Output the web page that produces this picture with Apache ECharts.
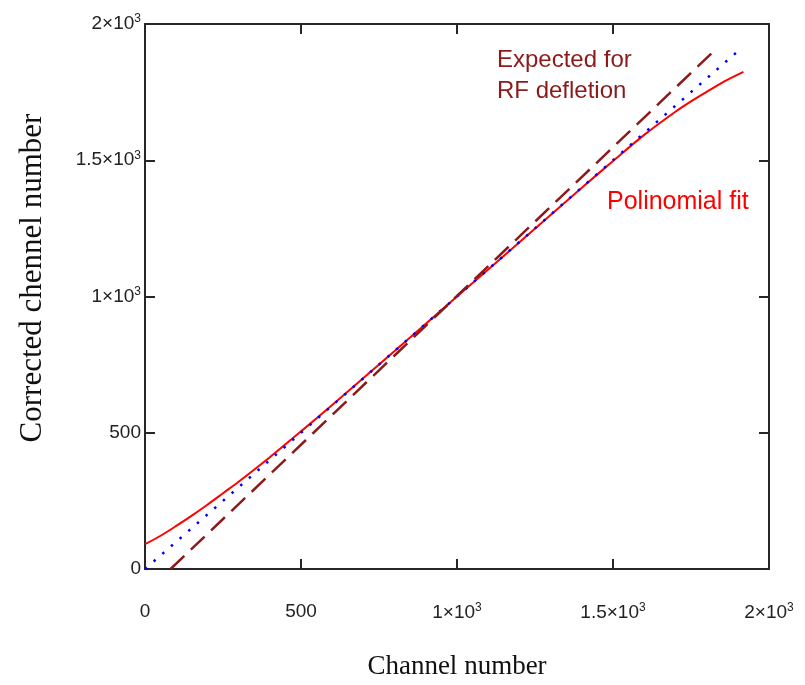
<!DOCTYPE html>
<html>
<head>
<meta charset="utf-8">
<script src="https://cdn.jsdelivr.net/npm/echarts@6/dist/echarts.min.js"></script>
<style>
  html, body {margin: 0; padding: 0; background: #fff;}
  #chart {width: 805px; height: 685px;}
</style>
</head>
<body>
<div id="chart"></div>
<script>
// tick values and their labels (x and y share them)
var tickValues = [0, 500, 1000, 1500, 2000]
var tickLabels = ['0', '500', '{b|1×10}{s|3}', '{b|1.5×10}{s|3}', '{b|2×10}{s|3}']

// polynomial fit (red solid)
var fitX = [0, 50, 100, 150, 200, 250, 300, 400, 500, 600, 700, 800, 1000, 1200, 1400, 1500, 1600, 1700, 1750, 1800, 1850, 1918]
var fitY = [91, 122, 158, 196, 236, 278, 320, 410, 505, 602, 701, 800, 1000, 1199, 1399, 1497, 1593, 1678, 1716, 1751, 1785, 1824]

// identity line (blue dotted)
var idealX = [0, 1900]
var idealY = [0, 1900]

// expected for RF deflection (dark red dashed)
var rfX = [82, 1832]
var rfY = [0, 1910]

var tickFont = 'Liberation Sans'
var titleFont = 'Liberation Serif'

function pairs (xs, ys) {
  var out = []
  for (var i = 0; i < xs.length; i++) out.push([xs[i], ys[i]])
  return out
}

function fmt (v) {
  var i = tickValues.indexOf(v)
  return i >= 0 ? tickLabels[i] : ''
}

var labelRich = {
  b: {fontFamily: tickFont, fontSize: 19, color: '#222'},
  s: {fontFamily: tickFont, fontSize: 12, color: '#222', verticalAlign: 'top', padding: [0, 0, 10, 0]}
}

var axisCommon = {
  type: 'value', min: 0, max: 2000, interval: 500,
  splitLine: {show: false},
  axisLine: {show: true, onZero: false, lineStyle: {color: '#262626', width: 2}},
  axisTick: {show: true, inside: true, length: 10, lineStyle: {color: '#262626', width: 2}}
}

var chart = echarts.init(document.getElementById('chart'))
chart.setOption({
  animation: false,
  backgroundColor: '#fff',
  grid: {left: 145, right: 36, top: 24, bottom: 112},
  xAxis: [
    Object.assign({}, axisCommon, {
      position: 'bottom',
      name: 'Channel number', nameLocation: 'middle', nameGap: 84,
      nameTextStyle: {fontFamily: titleFont, fontSize: 27, color: '#111'},
      axisLabel: {margin: 33, formatter: fmt, fontFamily: tickFont, fontSize: 19, color: '#222', rich: labelRich}
    }),
    Object.assign({}, axisCommon, {position: 'top', axisLabel: {show: false}})
  ],
  yAxis: [
    Object.assign({}, axisCommon, {
      position: 'left',
      axisLabel: {margin: 4, formatter: fmt, fontFamily: tickFont, fontSize: 19, color: '#222', rich: labelRich}
    }),
    Object.assign({}, axisCommon, {position: 'right', axisLabel: {show: false}})
  ],
  graphic: [
    {type: 'text', x: 33, y: 278, rotation: Math.PI / 2,
      style: {text: 'Corrected chennel number', fontFamily: titleFont, fontSize: 31, fill: '#111', align: 'center', verticalAlign: 'middle'}},
    {type: 'text', left: 497, top: 45, style: {text: 'Expected for\nRF defletion', fontFamily: tickFont, fontSize: 24, lineHeight: 31, fill: '#8c1a1a'}},
    {type: 'text', left: 607, top: 190, style: {text: 'Polinomial fit', fontFamily: tickFont, fontSize: 25, fill: '#ff0000'}}
  ],
  series: [
    {name: 'fit', type: 'line', symbol: 'none', smooth: 0.3, data: pairs(fitX, fitY),
      lineStyle: {color: '#ff0000', width: 2}},
    {name: 'ideal', type: 'line', symbol: 'none', data: pairs(idealX, idealY),
      lineStyle: {color: '#0000ff', width: 2.5, type: [2.5, 9]}},
    {name: 'rf', type: 'line', symbol: 'none', data: pairs(rfX, rfY),
      lineStyle: {color: '#8c1a1a', width: 2.5, type: [19, 9]}}
  ]
})
</script>
</body>
</html>
